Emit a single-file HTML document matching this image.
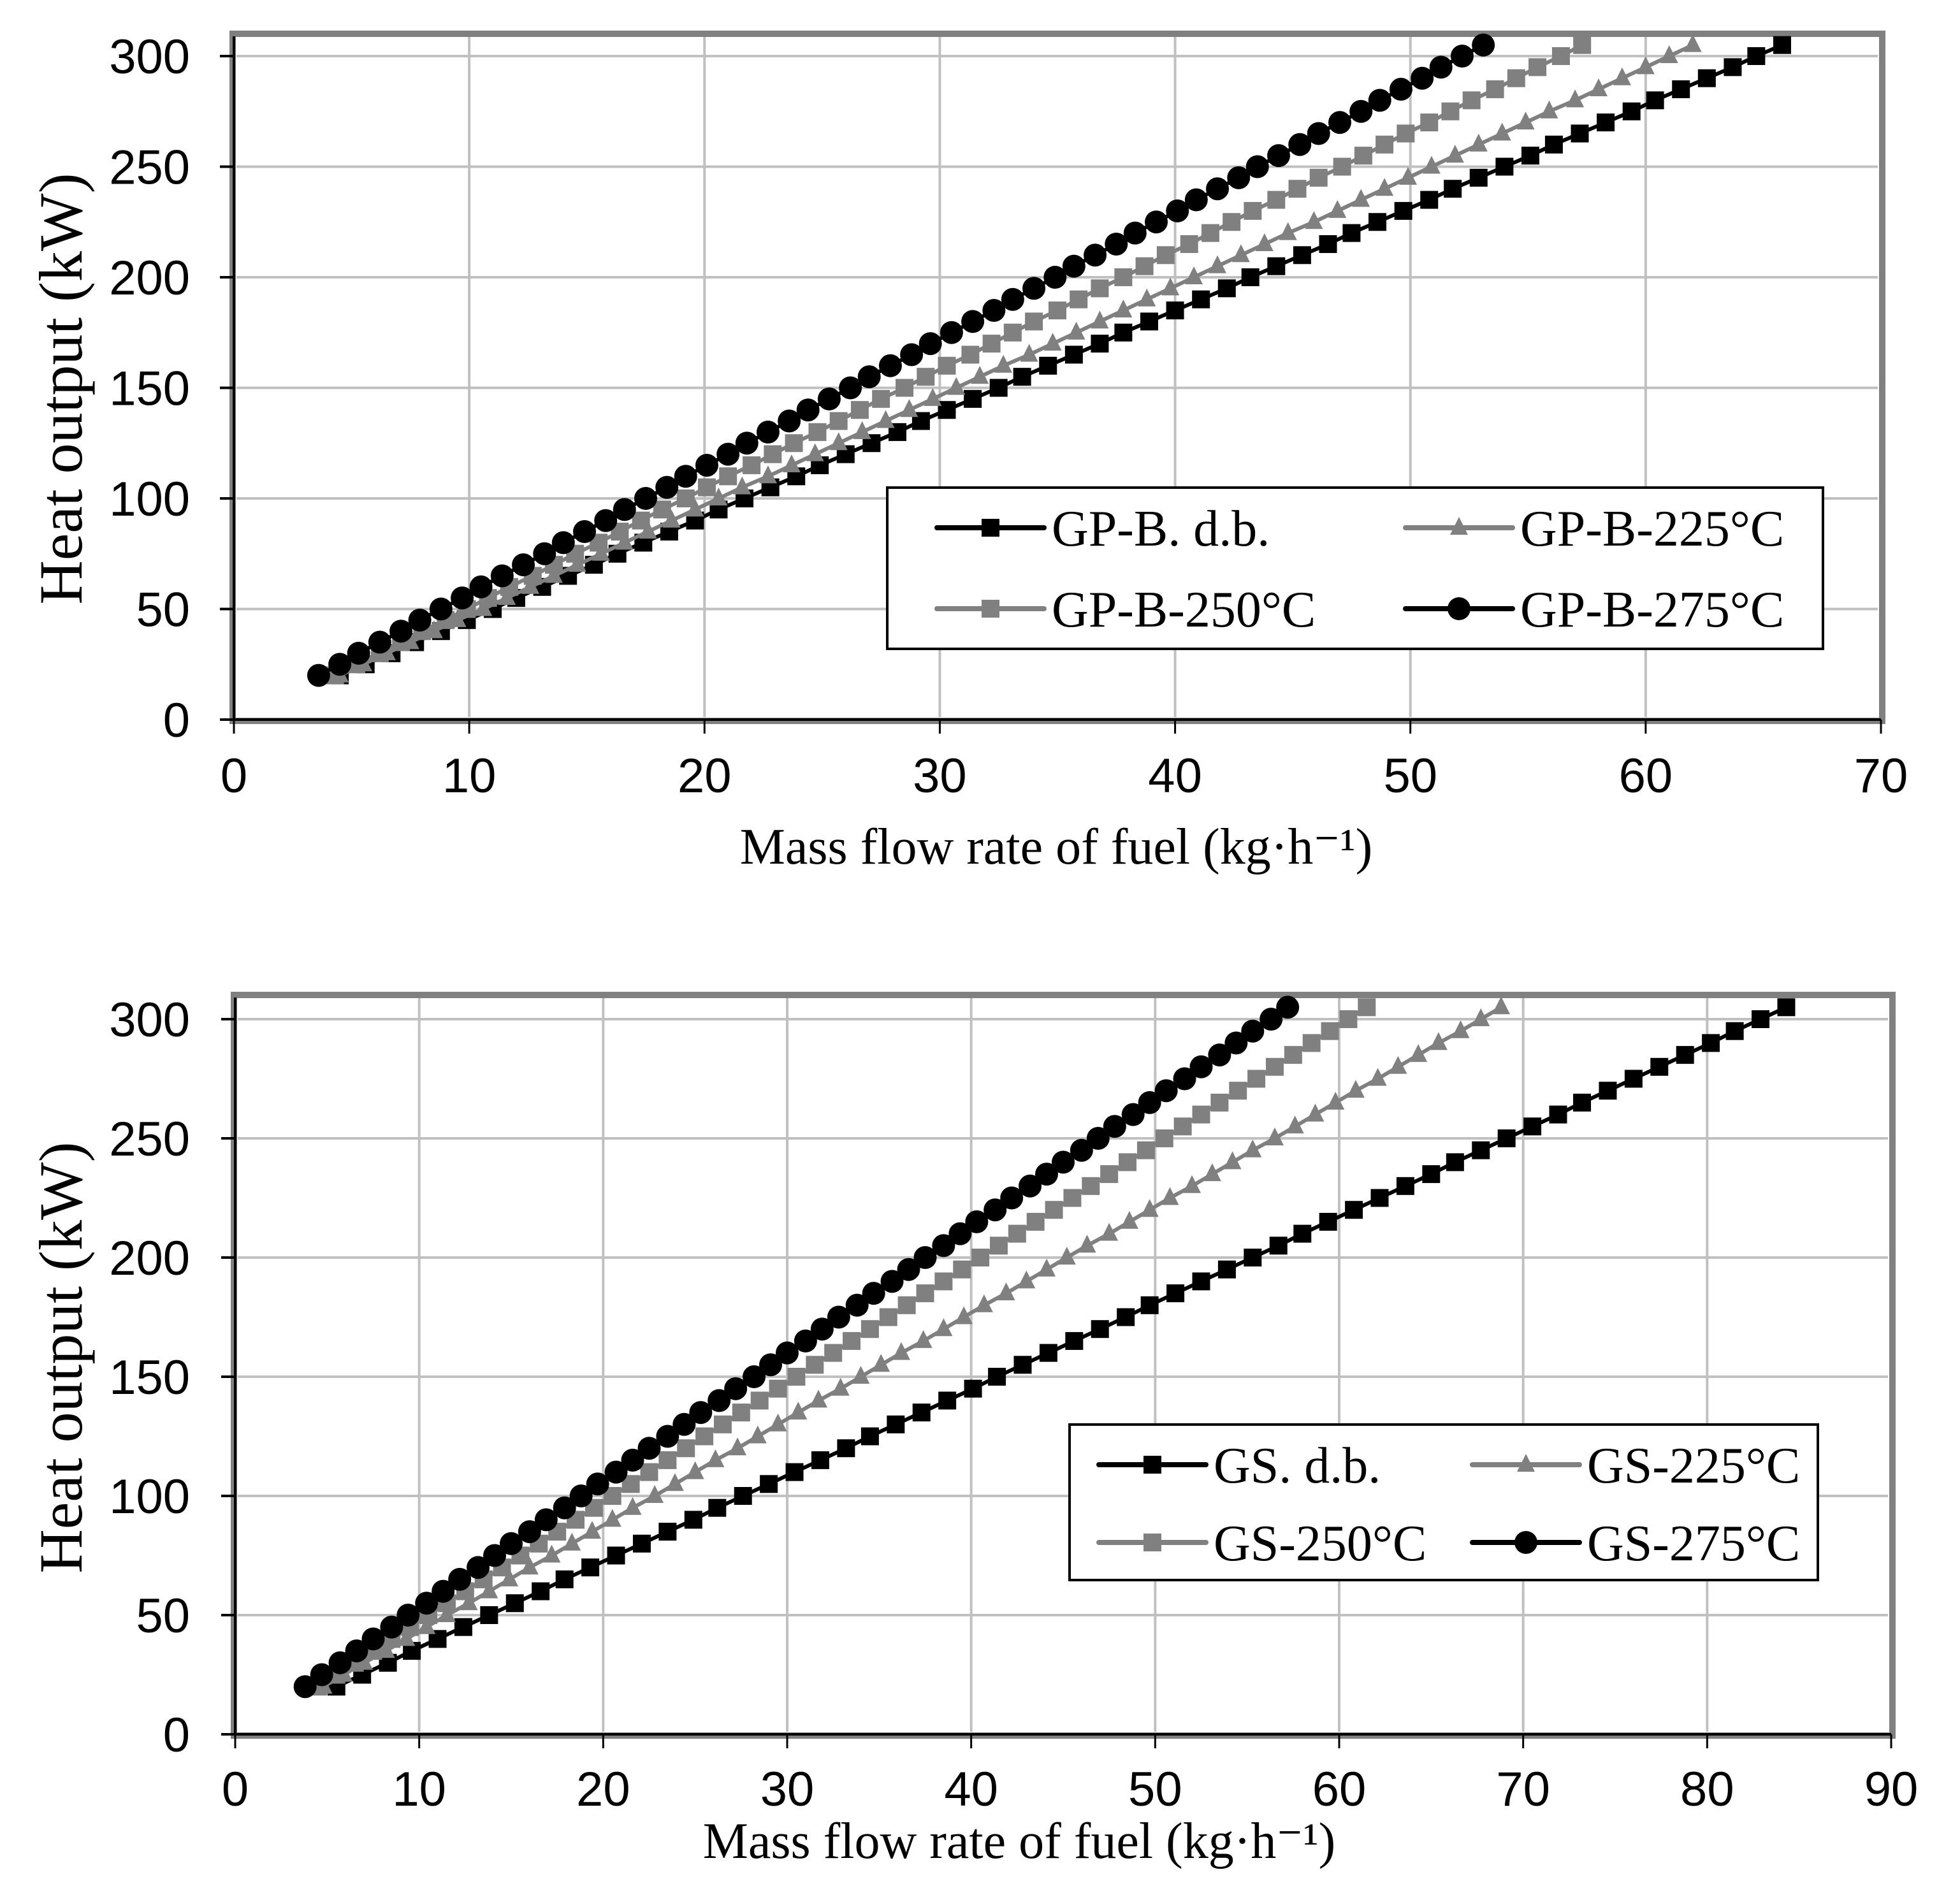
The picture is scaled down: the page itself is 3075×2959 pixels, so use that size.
<!DOCTYPE html>
<html><head><meta charset="utf-8"><style>
html,body{margin:0;padding:0;background:#fff;}
svg{display:block;}
</style></head><body>
<svg id="fig" xmlns="http://www.w3.org/2000/svg" width="3075" height="2959" viewBox="0 0 3075 2959"></svg>
<script>
// ---- data ----
const heat = [20,25,30,35,40,45,50,55,60,65,70,75,80,85,90,95,100,105,110,115,120,125,130,135,140,145,150,155,160,165,170,175,180,185,190,195,200,205,210,215,220,225,230,235,240,245,250,255,260,265,270,275,280,285,290,295,300,305];
const gpbDb = [4.5,5.6,6.7,7.7,8.8,9.9,11.0,12.0,13.1,14.2,15.3,16.3,17.4,18.5,19.6,20.6,21.7,22.8,23.9,24.9,26.0,27.1,28.2,29.2,30.3,31.4,32.5,33.5,34.6,35.7,36.8,37.8,38.9,40.0,41.1,42.2,43.2,44.3,45.4,46.5,47.5,48.6,49.7,50.8,51.8,52.9,54.0,55.1,56.1,57.2,58.3,59.4,60.4,61.5,62.6,63.7,64.7,65.8];
const gpb225 = [4.5,5.5,6.5,7.5,8.5,9.5,10.6,11.6,12.6,13.6,14.6,15.6,16.6,17.6,18.6,19.6,20.6,21.6,22.7,23.7,24.7,25.7,26.7,27.7,28.7,29.7,30.7,31.7,32.7,33.8,34.8,35.8,36.8,37.8,38.8,39.8,40.8,41.8,42.8,43.8,44.8,45.9,46.9,47.9,48.9,49.9,50.9,51.9,52.9,53.9,54.9,55.9,57.0,58.0,59.0,60.0,61.0,62.0];
const gpb250 = [4.3,5.2,6.2,7.1,8.0,9.0,9.9,10.8,11.7,12.7,13.6,14.5,15.5,16.4,17.3,18.2,19.2,20.1,21.0,22.0,22.9,23.8,24.8,25.7,26.6,27.5,28.5,29.4,30.3,31.3,32.2,33.1,34.0,35.0,35.9,36.8,37.8,38.7,39.6,40.6,41.5,42.4,43.3,44.3,45.2,46.1,47.1,48.0,48.9,49.8,50.8,51.7,52.6,53.6,54.5,55.4,56.4,57.3];
const gpb275 = [3.6,4.5,5.3,6.2,7.1,7.9,8.8,9.7,10.5,11.4,12.3,13.2,14.0,14.9,15.8,16.6,17.5,18.4,19.2,20.1,21.0,21.8,22.7,23.6,24.4,25.3,26.2,27.0,27.9,28.8,29.6,30.5,31.4,32.3,33.1,34.0,34.9,35.7,36.6,37.5,38.3,39.2,40.1,40.9,41.8,42.7,43.5,44.4,45.3,46.1,47.0,47.9,48.7,49.6,50.5,51.3,52.2,53.1];
const gsDb = [5.5,6.9,8.3,9.6,11.0,12.4,13.8,15.2,16.6,17.9,19.3,20.7,22.1,23.5,24.9,26.2,27.6,29.0,30.4,31.8,33.2,34.5,35.9,37.3,38.7,40.1,41.4,42.8,44.2,45.6,47.0,48.4,49.7,51.1,52.5,53.9,55.3,56.7,58.0,59.4,60.8,62.2,63.6,65.0,66.3,67.7,69.1,70.5,71.9,73.2,74.6,76.0,77.4,78.8,80.2,81.5,82.9,84.3];
const gs225 = [4.8,5.9,7.0,8.2,9.3,10.4,11.5,12.7,13.8,14.9,16.0,17.2,18.3,19.4,20.5,21.6,22.8,23.9,25.0,26.1,27.3,28.4,29.5,30.6,31.7,32.9,34.0,35.1,36.2,37.4,38.5,39.6,40.7,41.9,43.0,44.1,45.2,46.3,47.5,48.6,49.7,50.8,52.0,53.1,54.2,55.3,56.5,57.6,58.7,59.8,60.9,62.1,63.2,64.3,65.4,66.6,67.7,68.8];
const gs250 = [4.5,5.5,6.5,7.5,8.5,9.5,10.5,11.5,12.5,13.5,14.5,15.5,16.5,17.5,18.5,19.5,20.5,21.5,22.5,23.5,24.5,25.5,26.5,27.5,28.5,29.5,30.5,31.5,32.5,33.5,34.5,35.5,36.5,37.5,38.5,39.5,40.5,41.5,42.5,43.5,44.5,45.5,46.5,47.5,48.5,49.5,50.5,51.5,52.5,53.5,54.5,55.5,56.5,57.5,58.5,59.5,60.5,61.5];
const gs275 = [3.8,4.7,5.7,6.6,7.5,8.5,9.4,10.4,11.3,12.2,13.2,14.1,15.0,16.0,16.9,17.9,18.8,19.7,20.7,21.6,22.5,23.5,24.4,25.3,26.3,27.2,28.2,29.1,30.0,31.0,31.9,32.8,33.8,34.7,35.7,36.6,37.5,38.5,39.4,40.3,41.3,42.2,43.2,44.1,45.0,46.0,46.9,47.8,48.8,49.7,50.6,51.6,52.5,53.5,54.4,55.3,56.3,57.2];
const yTicks = [0,50,100,150,200,250,300];
const xTicksTop = [0,10,20,30,40,50,60,70];
const xTicksBot = [0,10,20,30,40,50,60,70,80,90];
const namesTop = ["GP-B. d.b.","GP-B-225°C","GP-B-250°C","GP-B-275°C"];
const namesBot = ["GS. d.b.","GS-225°C","GS-250°C","GS-275°C"];

const NS="http://www.w3.org/2000/svg";
const svg=document.getElementById('fig');
function mk(tag,attrs,parent){const e=document.createElementNS(NS,tag);for(const k in attrs)e.setAttribute(k,attrs[k]);(parent||svg).appendChild(e);return e;}

const styles=[{c:"#000",m:"sq"},{c:"#808080",m:"tri"},{c:"#808080",m:"sq"},{c:"#000",m:"circ"}];

function marker(g,type,x,y,c){
  let e;
  if(type==="sq"){e=mk('rect',{x:x-14,y:y-14,width:28,height:28,fill:c},g);}
  else if(type==="tri"){e=mk('polygon',{points:`${x},${y-17} ${x+14},${y+11} ${x-14},${y+11}`,fill:c},g);}
  else {e=mk('circle',{cx:x,cy:y,r:18,fill:c},g);}
  
  
}

function chart(cfg){
  const g=mk('g',{});
  
  
  const X=v=>cfg.x0+(v-cfg.xmin)*(cfg.x1-cfg.x0)/(cfg.xmax-cfg.xmin);
  const Y=v=>cfg.y0-(v)*(cfg.y0-cfg.y300)/300;
  const left=cfg.x0, right=X(cfg.xmax), bottom=cfg.y0, top=cfg.top;
  const fr=mk('rect',{x:left-2,y:top,width:right-left+4,height:bottom-top+2,fill:"#fff",stroke:"#808080","stroke-width":10},g);
  
  
  cfg.xt.forEach(t=>{if(t>0&&t<cfg.xmax){const l=mk('line',{x1:X(t),x2:X(t),y1:top+5,y2:bottom-4,stroke:"#c0c0c0","stroke-width":4},g);
    
    }});
  yTicks.forEach(t=>{if(t>0){const l=mk('line',{x1:left+4,x2:right-5,y1:Y(t),y2:Y(t),stroke:"#c0c0c0","stroke-width":4},g);
    
    }});
  const ax=mk('line',{x1:left,x2:right,y1:bottom,y2:bottom,stroke:"#000","stroke-width":4},g);
  
  
  const ay=mk('line',{x1:left,x2:left,y1:top+4,y2:bottom,stroke:"#000","stroke-width":4},g);
  
  
  cfg.xt.forEach(t=>{
    mk('line',{x1:X(t),x2:X(t),y1:bottom,y2:bottom+22,stroke:"#000","stroke-width":3},g);
    const tx=mk('text',{x:X(t),y:cfg.xlabY,"text-anchor":"middle","font-family":"Liberation Sans, sans-serif","font-size":76},g);
    tx.textContent=t;
    
    
  });
  yTicks.forEach(t=>{
    mk('line',{x1:left-22,x2:left,y1:Y(t),y2:Y(t),stroke:"#000","stroke-width":4},g);
    const tx=mk('text',{x:298,y:Y(t)+27,"text-anchor":"end","font-family":"Liberation Sans, sans-serif","font-size":76},g);
    tx.textContent=t;
    
    
  });
  cfg.series.forEach((xs,si)=>{
    const st=styles[si];
    const sg=mk('g',{},g);
    
    
    const pts=xs.map((v,i)=>X(v).toFixed(1)+","+Y(heat[i]).toFixed(1)).join(" ");
    mk('polyline',{points:pts,fill:"none",stroke:st.c,"stroke-width":6},sg);
    xs.forEach((v,i)=>marker(sg,st.m,X(v),Y(heat[i]),st.c));
  });
  const L=cfg.legend;
  const lg=mk('g',{},g);
  
  
  mk('rect',{x:L.x,y:L.y,width:L.w,height:L.h,fill:"#fff",stroke:"#000","stroke-width":4},lg);
  cfg.names.forEach((n,i)=>{
    const col=i%2,row=Math.floor(i/2);
    const lx=L.cols[col], ly=L.rows[row];
    const st=styles[i];
    const eg=mk('g',{},lg);
    
    
    mk('line',{x1:lx,x2:lx+168,y1:ly,y2:ly,stroke:st.c,"stroke-width":8,"stroke-linecap":"round"},eg);
    marker(eg,st.m,lx+84,ly,st.c);
    const t=mk('text',{x:lx+180,y:ly+28,"font-family":"Liberation Serif, serif","font-size":80},eg);
    t.textContent=n;
  });
  const xt=mk('text',{x:cfg.xTitleX,y:cfg.xTitleY,"text-anchor":"middle","font-family":"Liberation Serif, serif","font-size":80},g);
  xt.textContent="Mass flow rate of fuel (kg·h⁻¹)";
  
  
  const cy=cfg.yTitleY;
  const yt=mk('text',{x:0,y:0,"text-anchor":"middle","font-family":"Liberation Serif, serif","font-size":96,transform:`translate(128,${cy}) rotate(-90)`},g);
  yt.textContent="Heat output (kW)";
  
  
}

chart({name:"chart-gp-b",x0:367,x1:2951,xmin:0,xmax:70,y0:1129,y300:88,top:53,xt:xTicksTop,xlabY:1243,
  series:[gpbDb,gpb225,gpb250,gpb275],names:namesTop,
  legend:{x:1392,y:765,w:1468,h:253,cols:[1470,2205],rows:[828,955]},
  xTitleX:1657,xTitleY:1355,yTitleY:610});
chart({name:"chart-gs",x0:369,x1:2967,xmin:0,xmax:90,y0:2721,y300:1599,top:1561,xt:xTicksBot,xlabY:2833,
  series:[gsDb,gs225,gs250,gs275],names:namesBot,
  legend:{x:1678,y:2235,w:1174,h:244,cols:[1724,2310],rows:[2298,2420]},
  xTitleX:1599,xTitleY:2915,yTitleY:2130});
</script>
</body></html>
